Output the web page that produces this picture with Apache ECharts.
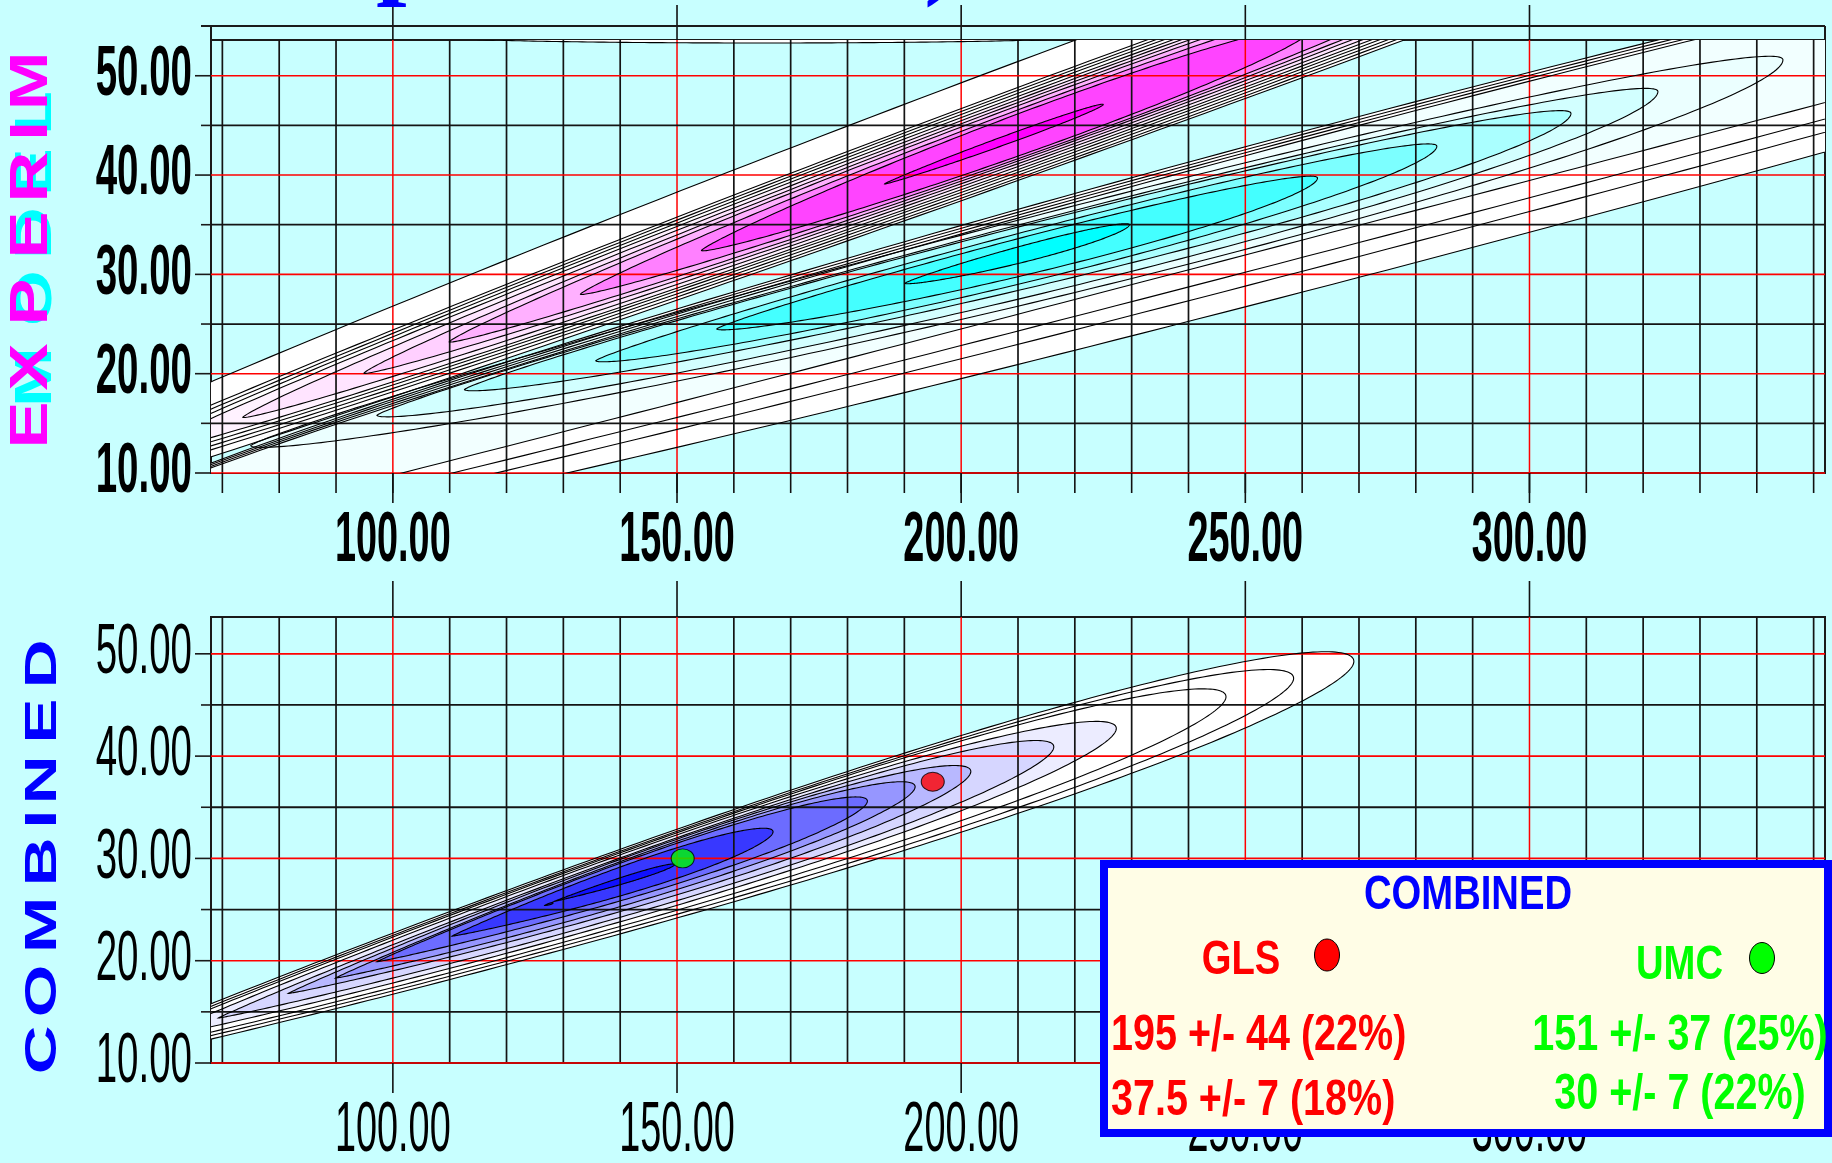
<!DOCTYPE html>
<html>
<head>
<meta charset="utf-8">
<script src="https://cdn.jsdelivr.net/npm/echarts@6/dist/echarts.min.js"></script>
<style>
  html, body { margin: 0; padding: 0; background: #c8ffff; }
  #chart { width: 1832px; height: 1163px; }
</style>
</head>
<body>
<div id="chart"></div>
<script>
// ---- axis ranges and tick values ----
const xRange = [68, 352];
const yRange = [10, 53.6];
const xMinorGrid = [70, 80, 90, 110, 120, 130, 140, 160, 170, 180, 190, 210, 220, 230, 240,
                    260, 270, 280, 290, 310, 320, 330, 340, 350];
const xMajorGrid = [100, 150, 200, 250, 300];
const xAllTicks = [70, 80, 90, 100, 110, 120, 130, 140, 150, 160, 170, 180, 190, 200, 210, 220,
                   230, 240, 250, 260, 270, 280, 290, 300, 310, 320, 330, 340, 350];
const yMinorGrid = [15, 25, 35, 45];
const yMajorGrid = [10, 20, 30, 40, 50];
const xTickLabels = [100, 150, 200, 250, 300];
const yTickLabels = [10, 20, 30, 40, 50];

// ---- contour outlines: [xLeftTip, yLeftTip, xRightTip, yRightTip, halfWidthUp, halfWidthDown] ----
// experimental likelihood, first family (innermost first)
const expPink = [
  [186.5, 39.1, 225.0, 47.1, 0.45, 0.45],
  [154.3, 32.4, 262.0, 54.8, 2.2, 2.1],
  [133.0, 28.0, 285.0, 59.6, 2.6, 2.4],
  [109.9, 23.2, 305.0, 63.8, 3.0, 2.65],
  [94.9, 20.05, 320.0, 66.9, 3.35, 2.9],
  [73.6, 15.6, 340.0, 71.0, 3.7, 3.15],
  [55.0, 11.75, 355.0, 74.1, 4.0, 3.45],
  [45.0, 9.7, 365.0, 76.2, 4.3, 3.75],
  [35.0, 7.6, 375.0, 78.3, 4.6, 4.05],
  [25.0, 5.5, 385.0, 80.4, 4.9, 4.35],
  [-10.0, -1.7, 420.0, 87.7, 7.5, 4.65]
];
// experimental likelihood, second family: closed inner contours (innermost first)
const expCyan = [
  [190.1, 29.1, 229.6, 35.0, 0.7, 1.0],
  [157.0, 24.5, 262.7, 39.7, 1.5, 2.4],
  [135.7, 21.3, 283.7, 42.9, 2.0, 3.2],
  [112.6, 18.4, 307.3, 46.2, 2.5, 4.0],
  [97.2, 15.8, 322.6, 48.4, 2.9, 4.7],
  [75.0, 12.75, 344.6, 51.6, 3.3, 5.5]
];
// second family: long outer contours running off the panel
const expCyanOuter = [
  [30.0, 0.0, 520.0, 73.5, 9.0, 1.05],
  [30.0, 0.0, 520.0, 73.5, 9.3, 2.8],
  [30.0, 0.0, 520.0, 73.5, 9.6, 4.2],
  [30.0, 0.0, 520.0, 73.5, 9.9, 6.3]
];
// thin sliver along the upper frame
const expEdge = [
  [108.0, 53.95, 222.0, 53.95, 0.65, 0.65]
];
// combined likelihood (innermost first)
const combBlue = [
  [126.7, 25.4, 128.2, 25.65, 0.08, 0.08],
  [128.4, 25.8, 149.6, 29.4, 0.35, 0.35],
  [110.4, 22.4, 166.9, 32.6, 1.5, 1.5],
  [97.2, 19.9, 183.5, 35.6, 2.0, 2.0],
  [89.9, 18.3, 191.9, 37.0, 2.4, 2.4],
  [81.6, 16.8, 201.7, 38.5, 2.8, 2.8],
  [69.3, 14.4, 216.3, 40.9, 3.2, 3.2],
  [58.0, 12.4, 227.3, 42.7, 3.6, 3.6],
  [48.0, 10.6, 246.6, 45.8, 4.1, 4.0],
  [42.0, 9.5, 258.5, 47.6, 4.5, 4.3],
  [36.0, 8.4, 269.1, 49.25, 4.9, 4.6]
];

// ---- fitted points and their uncertainties ----
const glsFit = [195, 37.5];
const glsErr = [44, 7];
const glsPct = [22, 18];
const umcFit = [151, 30];
const umcErr = [37, 7];
const umcPct = [25, 22];

// ---- palettes (innermost first) ----
const pinkFill = ['#ff00ff', '#ff44ff', '#ff80ff', '#ffb0ff', '#ffd0ff', '#ffe4ff', '#fff2ff',
                  '#ffffff', '#ffffff', '#ffffff', '#ffffff'];
const cyanFill = ['#00ffff', '#44ffff', '#7cffff', '#aaffff', '#d2ffff', '#ebffff'];
const cyanOuterFill = ['#f2ffff', '#ffffff', '#ffffff', '#ffffff'];
const blueFill = ['#0000ff', '#1010ff', '#3838ff', '#6c6cff', '#9696ff', '#b8b8ff', '#d6d6ff',
                  '#ececff', '#ffffff', '#ffffff', '#ffffff'];
const edgeFill = ['#ffffff'];

const FONT = '"Liberation Sans", Arial, Helvetica, sans-serif';

// Build a draw list, outermost contours first so inner bands sit on top.
function layered(families) {
  const list = [];
  families.forEach(fam => {
    fam.rows.forEach((row, i) => {
      list.push({ value: row, fill: fam.fill[i], skew: fam.skew, depth: fam.depthOffset + i });
    });
  });
  list.sort((a, b) => b.depth - a.depth);
  return list;
}

function contourSeries(gi, items, filled) {
  return {
    type: 'custom', xAxisIndex: gi, yAxisIndex: gi, clip: true, silent: true,
    z: filled ? 1 : 3,
    data: items.map(it => it.value),
    renderItem: function (params, api) {
      const it = items[params.dataIndex];
      const xL = api.value(0), yL = api.value(1), xR = api.value(2), yR = api.value(3);
      const hu = api.value(4), hd = api.value(5);
      const N = 160, up = [], dn = [];
      for (let i = 0; i <= N; i++) {
        const f = (1 - Math.cos(Math.PI * i / N)) / 2;
        const g = Math.pow(f, it.skew);
        const w = 2 * Math.sqrt(Math.max(0, g * (1 - g)));
        const x = xL + (xR - xL) * f;
        const yc = yL + (yR - yL) * f;
        up.push(api.coord([x, yc + hu * w]));
        dn.push(api.coord([x, yc - hd * w]));
      }
      const pts = up.concat(dn.reverse());
      return {
        type: 'polygon',
        shape: { points: pts },
        style: filled ? { fill: it.fill, stroke: null, lineWidth: 0 }
                      : { fill: null, stroke: '#000', lineWidth: 1.1 }
      };
    }
  };
}

function vGrid(gi, values, color, width) {
  return {
    type: 'custom', xAxisIndex: gi, yAxisIndex: gi, z: 2, silent: true,
    data: values.map(v => [v, yRange[0]]),
    renderItem: function (params, api) {
      const cs = params.coordSys;
      const p = api.coord([api.value(0), yRange[0]]);
      return { type: 'line', shape: { x1: p[0], y1: cs.y, x2: p[0], y2: cs.y + cs.height },
               style: { stroke: color, lineWidth: width } };
    }
  };
}

function hGrid(gi, values, color, width, tickLen) {
  return {
    type: 'custom', xAxisIndex: gi, yAxisIndex: gi, z: 2, silent: true,
    data: values.map(v => [xRange[0], v]),
    renderItem: function (params, api) {
      const cs = params.coordSys;
      const p = api.coord([xRange[0], api.value(1)]);
      return {
        type: 'group', children: [
          { type: 'line', shape: { x1: cs.x, y1: p[1], x2: cs.x + cs.width, y2: p[1] },
            style: { stroke: color, lineWidth: width } },
          { type: 'line', shape: { x1: cs.x - tickLen, y1: p[1], x2: cs.x, y2: p[1] },
            style: { stroke: '#1a1a1a', lineWidth: 1.6 } }
        ]
      };
    }
  };
}

// x ticks under the panel, with optional labels
function xBottomTicks(gi, values, len, labelGap, font) {
  return {
    type: 'custom', xAxisIndex: gi, yAxisIndex: gi, z: 3, silent: true,
    data: values.map(v => [v, yRange[0]]),
    renderItem: function (params, api) {
      const v = api.value(0);
      const p = api.coord([v, yRange[0]]);
      const children = [
        { type: 'line', shape: { x1: p[0], y1: p[1], x2: p[0], y2: p[1] + len },
          style: { stroke: '#111', lineWidth: 1.6 } }
      ];
      if (labelGap) {
        children.push({
          type: 'text', x: p[0], y: p[1] + labelGap, scaleX: 0.54,
          style: { text: v.toFixed(2), font: font, fill: '#000',
                   align: 'center', verticalAlign: 'middle',
                   textAlign: 'center', textVerticalAlign: 'middle' }
        });
      }
      return { type: 'group', children: children };
    }
  };
}

// major x ticks rising above the panel
function xTopTicks(gi, values, len) {
  return {
    type: 'custom', xAxisIndex: gi, yAxisIndex: gi, z: 3, silent: true,
    data: values.map(v => [v, yRange[1]]),
    renderItem: function (params, api) {
      const p = api.coord([api.value(0), yRange[1]]);
      return { type: 'line', shape: { x1: p[0], y1: p[1], x2: p[0], y2: p[1] - len },
               style: { stroke: '#111', lineWidth: 1.6 } };
    }
  };
}

function yLabels(gi, values, gap, font) {
  return {
    type: 'custom', xAxisIndex: gi, yAxisIndex: gi, z: 3, silent: true,
    data: values.map(v => [xRange[0], v]),
    renderItem: function (params, api) {
      const v = api.value(1);
      const p = api.coord([xRange[0], v]);
      return {
        type: 'text', x: p[0] - gap, y: p[1], scaleX: 0.55,
        style: { text: v.toFixed(2), font: font, fill: '#000',
                 align: 'right', verticalAlign: 'middle',
                 textAlign: 'right', textVerticalAlign: 'middle' }
      };
    }
  };
}

// outer frame above the upper panel
function outerFrame(gi, yTop) {
  return {
    type: 'custom', xAxisIndex: gi, yAxisIndex: gi, z: 3, silent: true,
    data: [[xRange[0], yTop]],
    renderItem: function (params, api) {
      const cs = params.coordSys;
      const p = api.coord([xRange[0], yTop]);
      return {
        type: 'group', children: [
          { type: 'line', shape: { x1: cs.x - 10, y1: p[1], x2: cs.x + cs.width, y2: p[1] },
            style: { stroke: '#1a1a1a', lineWidth: 2 } },
          { type: 'line', shape: { x1: cs.x, y1: p[1], x2: cs.x, y2: cs.y },
            style: { stroke: '#1a1a1a', lineWidth: 2 } },
          { type: 'line', shape: { x1: cs.x + cs.width, y1: p[1], x2: cs.x + cs.width, y2: cs.y },
            style: { stroke: '#1a1a1a', lineWidth: 2 } }
        ]
      };
    }
  };
}

const topItems = layered([
  { rows: expPink, fill: pinkFill, skew: 1.3, depthOffset: 0 },
  { rows: expCyan, fill: cyanFill, skew: 1.3, depthOffset: 0 },
  { rows: expCyanOuter, fill: cyanOuterFill, skew: 1.0, depthOffset: 6 },
  { rows: expEdge, fill: edgeFill, skew: 1.0, depthOffset: -1 }
]);
const bottomItems = layered([
  { rows: combBlue, fill: blueFill, skew: 1.7, depthOffset: 0 }
]);

const topFont = 'bold 70px ' + FONT;
const bottomFont = '70px ' + FONT;

function panelSeries(gi, items, labelFont, belowMinor, topTickLen) {
  const s = [
    contourSeries(gi, items, true),
    vGrid(gi, xMinorGrid, '#141414', 1.7),
    vGrid(gi, xMajorGrid, '#ff0000', 1.5),
    hGrid(gi, yMinorGrid, '#141414', 1.8, 10),
    hGrid(gi, yMajorGrid, '#ff0000', 1.6, 16),
    contourSeries(gi, items, false),
    xBottomTicks(gi, xTickLabels, 30, 69, labelFont),
    xTopTicks(gi, xTickLabels, topTickLen),
    yLabels(gi, yTickLabels, 19, labelFont)
  ];
  if (belowMinor) s.push(xBottomTicks(gi, xAllTicks, 20, 0, labelFont));
  return s;
}

const series = []
  .concat(panelSeries(0, topItems, topFont, true, 35))
  .concat([outerFrame(0, 55)])
  .concat(panelSeries(1, bottomItems, bottomFont, false, 36))
  .concat([{
    type: 'scatter', xAxisIndex: 1, yAxisIndex: 1, z: 5, silent: true,
    symbol: 'circle', symbolSize: [23, 19],
    itemStyle: { borderColor: '#000', borderWidth: 1 },
    data: [
      { value: glsFit, itemStyle: { color: '#ff0000' } },
      { value: umcFit, itemStyle: { color: '#00ff00' } }
    ]
  }]);

// ---- rotated panel titles, one glyph at a time (reading bottom to top) ----
function spacedWord(word, centersY, x, font, fill, stretch) {
  return word.split('').map((ch, i) => ({
    type: 'group', x: x, y: centersY[i], rotation: Math.PI / 2, z: 30,
    children: [{
      type: 'text', scaleX: stretch, z: 30,
      style: { text: ch, font: font, fill: fill, align: 'center', verticalAlign: 'middle',
               textAlign: 'center', textVerticalAlign: 'middle' }
    }]
  }));
}

function txt(text, x, y, font, fill, align, sx) {
  return {
    type: 'text', x: x, y: y, scaleX: sx, z: 42,
    style: { text: text, font: font, fill: fill, align: align, verticalAlign: 'middle',
             textAlign: align, textVerticalAlign: 'middle' }
  };
}

const fitLine = (v, e, p) => v + ' +/- ' + e + ' (' + p + '%)';
const legendFont = 'bold 50px ' + FONT;
const legendHead = 'bold 49px ' + FONT;
const serifTitle = 'bold 110px "Liberation Serif", "Times New Roman", serif';

const graphic = []
  .concat([
    { type: 'text', x: 376, y: -44, z: 30,
      style: { text: 'p', font: serifTitle, fill: '#0000ff',
               align: 'left', verticalAlign: 'middle', textAlign: 'left', textVerticalAlign: 'middle' } },
    { type: 'text', x: 924, y: -44, z: 30,
      style: { text: ')', font: serifTitle, fill: '#0000ff',
               align: 'left', verticalAlign: 'middle', textAlign: 'left', textVerticalAlign: 'middle' } }
  ])
  .concat(spacedWord('MODEL', [377, 298, 233, 172, 113], 36.5, 'bold 52px ' + FONT, '#00ffff', 1.38))
  .concat(spacedWord('EXPERIM', [425, 367, 302, 235, 177, 131, 81], 32, 'bold 53px ' + FONT, '#ff00ff', 1.33))
  .concat(spacedWord('COMBINED', [1050, 991, 925, 862, 819, 780, 721, 664], 44, 'bold 45px ' + FONT, '#0000ff', 1.5))
  .concat([
    { type: 'rect', z: 40, shape: { x: 1104, y: 864, width: 724, height: 269 },
      style: { fill: '#fffde6', stroke: '#0000ff', lineWidth: 8 } },
    txt('COMBINED', 1468, 895.5, legendHead, '#0000ff', 'center', 0.78),
    txt('GLS', 1241, 960.5, legendHead, '#ff0000', 'center', 0.78),
    txt('UMC', 1679.5, 965.5, legendHead, '#00ff00', 'center', 0.78),
    { type: 'ellipse', z: 42, shape: { cx: 1327, cy: 955, rx: 12.5, ry: 16 },
      style: { fill: '#ff0000', stroke: '#000', lineWidth: 1 } },
    { type: 'ellipse', z: 42, shape: { cx: 1762, cy: 958, rx: 12.5, ry: 15.5 },
      style: { fill: '#00ff00', stroke: '#000', lineWidth: 1 } },
    txt(fitLine(glsFit[0], glsErr[0], glsPct[0]), 1111, 1036, legendFont, '#ff0000', 'left', 0.79),
    txt(fitLine(glsFit[1], glsErr[1], glsPct[1]), 1111, 1101.5, legendFont, '#ff0000', 'left', 0.79),
    txt(fitLine(umcFit[0], umcErr[0], umcPct[0]), 1680, 1036, legendFont, '#00ff00', 'center', 0.79),
    txt(fitLine(umcFit[1], umcErr[1], umcPct[1]), 1680, 1095.5, legendFont, '#00ff00', 'center', 0.79)
  ]);

const axisBase = { type: 'value', min: xRange[0], max: xRange[1], show: false };
const yBase = { type: 'value', min: yRange[0], max: yRange[1], show: false };

const option = {
  animation: false,
  backgroundColor: '#c8ffff',
  grid: [
    { left: 211, right: 7, top: 40, height: 433, show: true, borderColor: '#1a1a1a', borderWidth: 2,
      backgroundColor: 'transparent' },
    { left: 211, right: 7, top: 617, height: 446, show: true, borderColor: '#1a1a1a', borderWidth: 2,
      backgroundColor: 'transparent' }
  ],
  xAxis: [Object.assign({ gridIndex: 0 }, axisBase), Object.assign({ gridIndex: 1 }, axisBase)],
  yAxis: [Object.assign({ gridIndex: 0 }, yBase), Object.assign({ gridIndex: 1 }, yBase)],
  series: series,
  graphic: graphic
};

const chart = echarts.init(document.getElementById('chart'));
chart.setOption(option);
</script>
</body>
</html>
